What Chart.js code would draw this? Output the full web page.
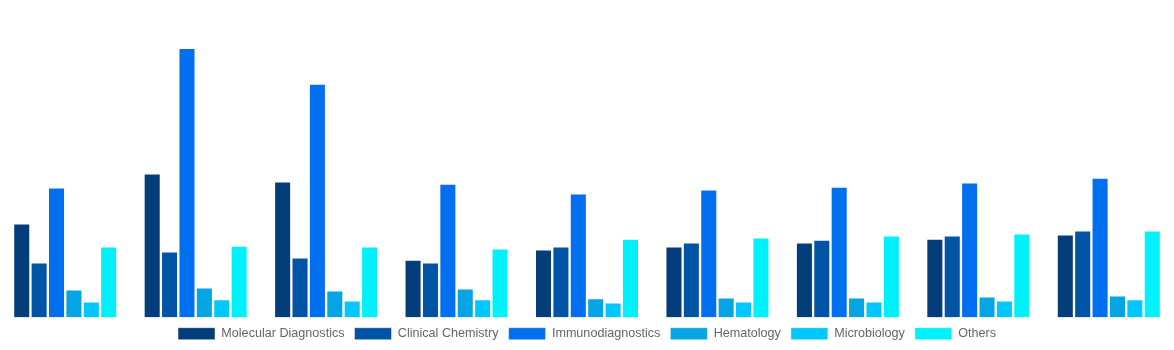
<!DOCTYPE html>
<html>
<head>
<meta charset="utf-8">
<script src="https://cdn.jsdelivr.net/npm/chart.js@4/dist/chart.umd.min.js"></script>
<style>
  html, body { margin: 0; padding: 0; background: #fff; }
  #wrap { width: 1174px; height: 350px; }
</style>
</head>
<body>
<div id="wrap"><canvas id="canvas1"></canvas></div>
<script>
var years = ["2019", "2020", "2021", "2022", "2023", "2024", "2025", "2026", "2027"];

var molecular     = [2.96, 4.53, 4.28, 1.82, 2.14, 2.23, 2.36, 2.48, 2.61];
var clinical      = [1.73, 2.08, 1.89, 1.73, 2.23, 2.36, 2.45, 2.58, 2.74];
var immuno        = [4.09, 8.49, 7.36, 4.21, 3.90, 4.03, 4.12, 4.25, 4.40];
var hematology    = [0.88, 0.94, 0.85, 0.91, 0.60, 0.63, 0.63, 0.66, 0.69];
var microbiology  = [0.50, 0.57, 0.53, 0.57, 0.47, 0.50, 0.50, 0.53, 0.57];
var others        = [2.23, 2.26, 2.23, 2.17, 2.48, 2.52, 2.58, 2.64, 2.74];

var names  = ["Molecular Diagnostics", "Clinical Chemistry", "Immunodiagnostics", "Hematology", "Microbiology", "Others"];
var series = [molecular, clinical, immuno, hematology, microbiology, others];
var colors = ["#033d7a", "#0054a6", "#006ff0", "#05a5e5", "#00c8ff", "#00f1f9"];

var datasets = series.map(function (vals, i) {
    return {
        label: names[i],
        data: vals,
        backgroundColor: colors[i],
        borderColor: "rgba(255,255,255,0.45)",
        borderWidth: 1,
        categoryPercentage: 0.8,
        barPercentage: 0.98
    };
});

new Chart(document.getElementById("canvas1"), {
    type: "bar",
    data: { labels: years, datasets: datasets },
    options: {
        responsive: true,
        maintainAspectRatio: false,
        animation: false,
        layout: { padding: 0 },
        scales: {
            x: { display: false },
            y: { display: false, min: 0, max: 10 }
        },
        plugins: {
            tooltip: { enabled: false },
            legend: {
                position: "bottom",
                labels: {
                    boxWidth: 37,
                    boxHeight: 12,
                    padding: 10,
                    color: "#666",
                    font: { family: "'Liberation Sans', Arial, sans-serif", size: 12.6 }
                }
            }
        }
    }
});
</script>
</body>
</html>
